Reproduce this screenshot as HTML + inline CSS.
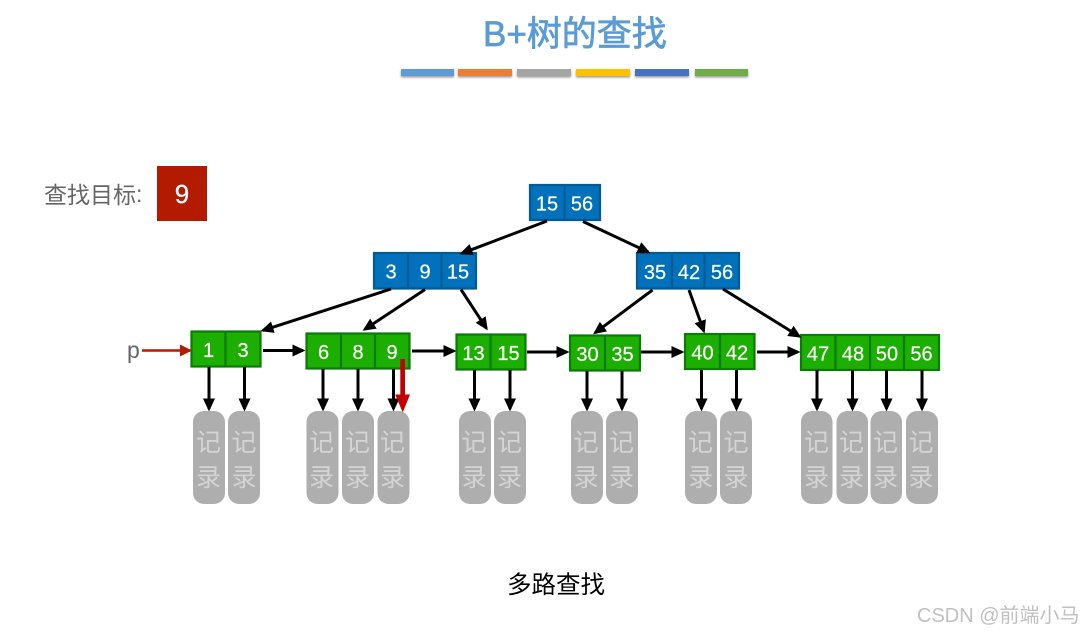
<!DOCTYPE html>
<html>
<head>
<meta charset="utf-8">
<title>B+树的查找</title>
<style>
html,body{margin:0;padding:0;background:#fff;width:1081px;height:633px;overflow:hidden}
svg{display:block}
text{font-family:"Liberation Sans","Noto Sans CJK SC",sans-serif}
.b rect{fill:#0071ba;stroke:#045a94;stroke-width:2.2}
.b line,.g line{stroke-width:2.2}
.b line{stroke:#045a94}
.g rect{fill:#1caf00;stroke:#0b7a0b;stroke-width:2.2}
.g line{stroke:#0b7a0b}
.n text{font-size:20px;fill:#fff;text-anchor:middle;stroke:#fff;stroke-width:.2}
.a line{stroke:#000;stroke-width:3;marker-end:url(#h)}
.r rect{fill:#aeaeae}
.r text{font-size:25px;fill:#d4d4d4;text-anchor:middle}
</style>
</head>
<body>
<svg width="1081" height="633" viewBox="0 0 1081 633" xmlns="http://www.w3.org/2000/svg">
<defs>
<marker id="h" markerUnits="userSpaceOnUse" markerWidth="13" markerHeight="13" refX="10.500" refY="6.500" orient="auto"><path d="M0 .5L13 6.500L0 12.500z" fill="#000"/></marker>
<marker id="hr" markerUnits="userSpaceOnUse" markerWidth="12" markerHeight="13" refX="10" refY="6.500" orient="auto"><path d="M0 .5L12 6.500L0 12.500z" fill="#b31b00"/></marker>
<filter id="s" x="-10%" y="-50%" width="120%" height="220%"><feDropShadow dx="0" dy="1.500" stdDeviation="1" flood-color="#000" flood-opacity=".4"/></filter>
<filter id="w" x="-5%" y="-20%" width="110%" height="140%"><feGaussianBlur stdDeviation=".35"/></filter>
</defs>

<text x="483" y="46" font-size="35" fill="#5b9bd5" stroke="#5b9bd5" stroke-width=".7">B+树的查找</text>
<g filter="url(#s)">
<rect x="401" y="69" width="53" height="7" fill="#5b9bd5"/>
<rect x="458" y="69" width="54" height="7" fill="#ed7d31"/>
<rect x="517" y="69" width="54" height="7" fill="#a5a5a5"/>
<rect x="576" y="69" width="54" height="7" fill="#ffc000"/>
<rect x="635" y="69" width="54" height="7" fill="#4472c4"/>
<rect x="695" y="69" width="53" height="7" fill="#70ad47"/>
</g>

<text x="44" y="203" font-size="23" fill="#666">查找目标</text>
<text x="136" y="202" font-size="23" fill="#666">:</text>
<rect x="157" y="166" width="50" height="55" fill="#b31b00"/>
<text x="182" y="203" font-size="26" fill="#fff" text-anchor="middle" stroke="#fff" stroke-width=".3">9</text>

<g class="n b">
<rect x="530" y="185" width="70" height="35"/><line x1="564.500" y1="185" x2="564.500" y2="220"/>
<text x="547" y="210.500">15</text><text x="582" y="210.500">56</text>
<rect x="374" y="253" width="102" height="35.500"/><line x1="408" y1="253" x2="408" y2="288.500"/><line x1="441.500" y1="253" x2="441.500" y2="288.500"/>
<text x="391" y="278.500">3</text><text x="425" y="278.500">9</text><text x="458" y="278.500">15</text>
<rect x="637" y="253" width="102" height="35.500"/><line x1="672" y1="253" x2="672" y2="288.500"/><line x1="704.500" y1="253" x2="704.500" y2="288.500"/>
<text x="655" y="279">35</text><text x="689" y="279">42</text><text x="722" y="279">56</text>
</g>

<g class="n g">
<rect x="191.500" y="331.500" width="69" height="35"/><line x1="225.500" y1="331.500" x2="225.500" y2="366.500"/>
<text x="208.500" y="357">1</text><text x="243" y="357">3</text>
<rect x="306.500" y="333.500" width="103" height="35"/><line x1="341" y1="333.500" x2="341" y2="368.500"/><line x1="375" y1="333.500" x2="375" y2="368.500"/>
<text x="323.500" y="359">6</text><text x="358" y="359">8</text><text x="392" y="359">9</text>
<rect x="456.500" y="334.500" width="69" height="35"/><line x1="490.500" y1="334.500" x2="490.500" y2="369.500"/>
<text x="473.500" y="360">13</text><text x="508.500" y="360">15</text>
<rect x="570" y="335.500" width="70" height="35"/><line x1="605" y1="335.500" x2="605" y2="370.500"/>
<text x="587.500" y="361">30</text><text x="622.500" y="361">35</text>
<rect x="685" y="334" width="69.500" height="35"/><line x1="720" y1="334" x2="720" y2="369"/>
<text x="702.500" y="359.500">40</text><text x="737" y="359.500">42</text>
<rect x="801" y="335" width="138" height="35"/><line x1="835.500" y1="335" x2="835.500" y2="370"/><line x1="870" y1="335" x2="870" y2="370"/><line x1="904" y1="335" x2="904" y2="370"/>
<text x="818" y="360.500">47</text><text x="853" y="360.500">48</text><text x="887" y="360.500">50</text><text x="921.500" y="360.500">56</text>
</g>

<g class="r">
<rect x="193" y="411" width="32" height="93" rx="11"/><text x="208.500" y="451">记</text><text x="208.500" y="486">录</text>
<rect x="228" y="411" width="32" height="93" rx="11"/><text x="244" y="451">记</text><text x="244" y="486">录</text>
<rect x="306.500" y="411" width="32" height="93" rx="11"/><text x="321.500" y="451">记</text><text x="321.500" y="486">录</text>
<rect x="342" y="411" width="32" height="93" rx="11"/><text x="357.500" y="451">记</text><text x="357.500" y="486">录</text>
<rect x="377.500" y="411" width="32" height="93" rx="11"/><text x="392.500" y="451">记</text><text x="392.500" y="486">录</text>
<rect x="459" y="411" width="32" height="93" rx="11"/><text x="474" y="451">记</text><text x="474" y="486">录</text>
<rect x="494" y="411" width="32" height="93" rx="11"/><text x="509.500" y="451">记</text><text x="509.500" y="486">录</text>
<rect x="571" y="411" width="32" height="93" rx="11"/><text x="586" y="451">记</text><text x="586" y="486">录</text>
<rect x="606" y="411" width="32" height="93" rx="11"/><text x="621.500" y="451">记</text><text x="621.500" y="486">录</text>
<rect x="685" y="411" width="32" height="93" rx="11"/><text x="700.500" y="451">记</text><text x="700.500" y="486">录</text>
<rect x="720" y="411" width="32" height="93" rx="11"/><text x="736" y="451">记</text><text x="736" y="486">录</text>
<rect x="801" y="411" width="31.500" height="93" rx="11"/><text x="816.500" y="451">记</text><text x="816.500" y="486">录</text>
<rect x="836.500" y="411" width="31.500" height="93" rx="11"/><text x="851.500" y="451">记</text><text x="851.500" y="486">录</text>
<rect x="870.500" y="411" width="31.500" height="93" rx="11"/><text x="885.500" y="451">记</text><text x="885.500" y="486">录</text>
<rect x="906" y="411" width="32" height="93" rx="11"/><text x="921" y="451">记</text><text x="921" y="486">录</text>
</g>

<g class="a">
<line x1="547" y1="221" x2="461.900" y2="253.300"/>
<line x1="583" y1="221.500" x2="648.200" y2="252.100"/>
<line x1="391" y1="289" x2="262.900" y2="330.400"/>
<line x1="425" y1="289.500" x2="364.700" y2="329.400"/>
<line x1="461" y1="289.500" x2="486.400" y2="328.300"/>
<line x1="652.500" y1="290" x2="595.100" y2="332.800"/>
<line x1="689" y1="290" x2="703.800" y2="331.100"/>
<line x1="723" y1="289" x2="799.300" y2="336.400"/>

<line x1="263" y1="350.500" x2="303" y2="350.500"/>
<line x1="412" y1="351" x2="454" y2="351"/>
<line x1="527" y1="352" x2="567" y2="352"/>
<line x1="641" y1="352" x2="682" y2="352"/>
<line x1="757" y1="352" x2="798" y2="352"/>

<line x1="209" y1="367" x2="209" y2="409"/>
<line x1="244.500" y1="367" x2="244.500" y2="409"/>
<line x1="323" y1="369" x2="323" y2="409"/>
<line x1="358" y1="369" x2="358" y2="409"/>
<line x1="393.500" y1="369" x2="393.500" y2="409"/>
<line x1="474.500" y1="370" x2="474.500" y2="409"/>
<line x1="510" y1="370" x2="510" y2="409"/>
<line x1="587" y1="371" x2="587" y2="409"/>
<line x1="622" y1="371" x2="622" y2="409"/>
<line x1="701.500" y1="370" x2="701.500" y2="409"/>
<line x1="736.500" y1="370" x2="736.500" y2="409"/>
<line x1="817" y1="370" x2="817" y2="409"/>
<line x1="852.500" y1="370" x2="852.500" y2="409"/>
<line x1="886.500" y1="370" x2="886.500" y2="409"/>
<line x1="922" y1="370" x2="922" y2="409"/>
</g>

<text x="127" y="358" font-size="23" fill="#666">p</text>
<line x1="142" y1="350.500" x2="190" y2="350.500" stroke="#b31b00" stroke-width="2.500" marker-end="url(#hr)"/>

<path d="M400.300 359H405V394.500H410L402.700 412.500L395.300 394.500H400.300z" fill="#c40000"/>

<text x="507" y="593" font-size="24.500" fill="#000">多路查找</text>
<text x="917" y="622" font-size="20" fill="#c0c0c0" filter="url(#w)">CSDN @前端小马</text>
</svg>
</body>
</html>
